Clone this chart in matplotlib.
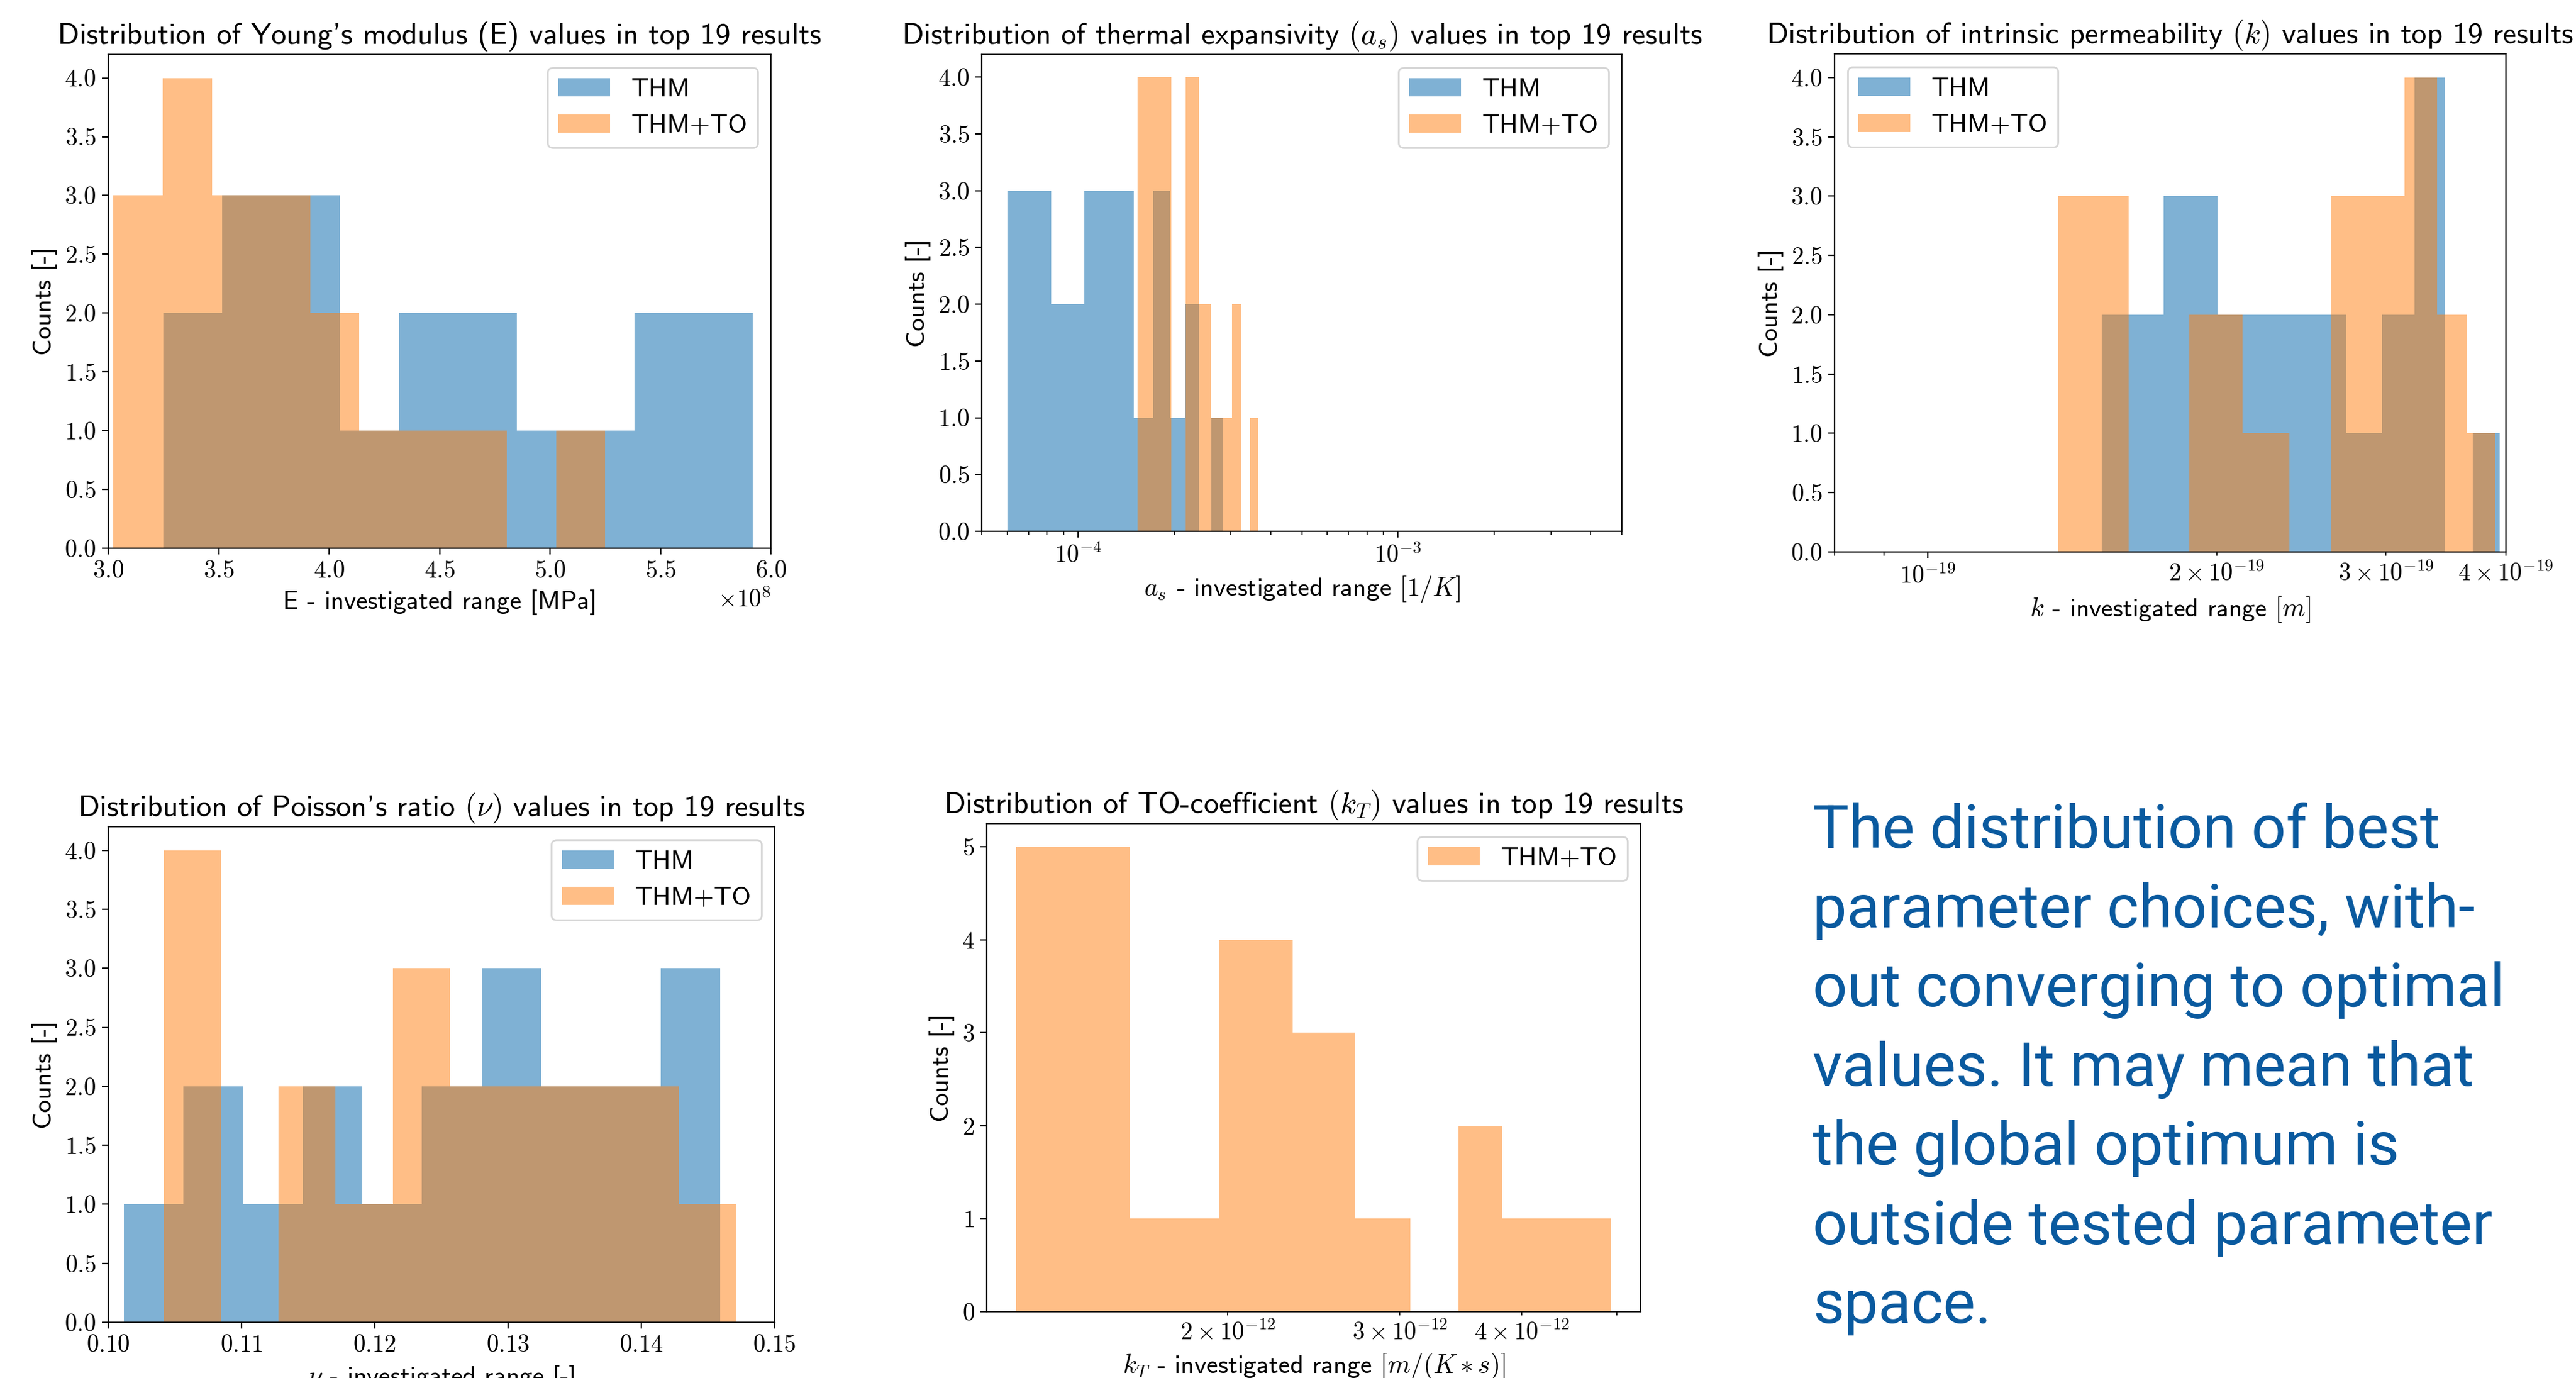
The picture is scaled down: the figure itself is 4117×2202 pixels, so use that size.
import matplotlib
matplotlib.use('Agg')
import matplotlib.pyplot as plt

# Fonts: serif CM for ticks/math, CM sans for text
plt.rcParams['font.family'] = 'cmr10'
plt.rcParams['mathtext.fontset'] = 'cm'
plt.rcParams['axes.formatter.use_mathtext'] = True
plt.rcParams['axes.unicode_minus'] = False

SANS = ['cmss10', 'DejaVu Sans']
TITLE_SIZE = 17.4
LABEL_SIZE = 15
TICK_SIZE = 14
LEGEND_SIZE = 15

# ---------------------------------------------------------------------------
# Data (bin edges + counts)
# ---------------------------------------------------------------------------
E_edges_thm = [3.249e8, 3.516e8, 3.783e8, 4.049e8, 4.316e8, 4.583e8,
               4.850e8, 5.117e8, 5.383e8, 5.650e8, 5.917e8]
E_counts_thm = [2, 3, 3, 1, 2, 2, 1, 1, 2, 2]
E_edges_to = [3.024e8, 3.247e8, 3.469e8, 3.692e8, 3.914e8, 4.137e8,
              4.359e8, 4.582e8, 4.804e8, 5.027e8, 5.249e8]
E_counts_to = [3, 4, 3, 3, 2, 1, 1, 1, 0, 1]

as_edges_thm = [6.00e-5, 8.23e-5, 10.46e-5, 12.69e-5, 14.92e-5, 17.15e-5,
                19.38e-5, 21.61e-5, 23.84e-5, 26.07e-5, 28.30e-5]
as_counts_thm = [3, 2, 3, 3, 1, 3, 1, 2, 0, 1]
as_edges_to = [1.535e-4, 1.748e-4, 1.960e-4, 2.173e-4, 2.385e-4, 2.598e-4,
               2.810e-4, 3.023e-4, 3.235e-4, 3.448e-4, 3.660e-4]
as_counts_to = [4, 4, 0, 4, 2, 1, 1, 2, 0, 1]

k_edges_thm = [1.519e-19, 1.761e-19, 2.003e-19, 2.245e-19, 2.487e-19, 2.729e-19,
               2.971e-19, 3.213e-19, 3.454e-19, 3.696e-19, 3.938e-19]
k_counts_thm = [2, 3, 2, 2, 2, 1, 2, 4, 0, 1]
k_edges_to = [1.367e-19, 1.620e-19, 1.873e-19, 2.126e-19, 2.379e-19, 2.632e-19,
              2.885e-19, 3.138e-19, 3.391e-19, 3.644e-19, 3.897e-19]
k_counts_to = [3, 0, 2, 1, 0, 3, 3, 4, 2, 1]

nu_edges_thm = [0.10117, 0.10564, 0.11012, 0.11459, 0.11907, 0.12354,
                0.12801, 0.13249, 0.13696, 0.14144, 0.14591]
nu_counts_thm = [1, 2, 1, 2, 1, 2, 3, 2, 2, 3]
nu_edges_to = [0.10417, 0.10846, 0.11275, 0.11705, 0.12134, 0.12563,
               0.12992, 0.13421, 0.13851, 0.14280, 0.14709]
nu_counts_to = [4, 0, 2, 1, 3, 2, 2, 2, 2, 1]

kT_edges_to = [1.216e-12, 1.588e-12, 1.960e-12, 2.331e-12, 2.703e-12, 3.075e-12,
               3.447e-12, 3.819e-12, 4.190e-12, 4.562e-12, 4.934e-12]
kT_counts_to = [5, 1, 4, 3, 1, 0, 2, 1, 1, 1]

note_lines = [
    'The distribution of best',
    'parameter choices, with-',
    'out converging to optimal',
    'values. It may mean that',
    'the global optimum is',
    'outside tested parameter',
    'space.',
]

# ---------------------------------------------------------------------------
W, H = 4117, 2202
DPI = 200
fig = plt.figure(figsize=(W / DPI, H / DPI), dpi=DPI)

ALPHA = {'C0': 0.57, 'C1': 0.5}


def px_axes(left, top, right, bottom):
    """Axes from pixel box of the reference image"""
    return fig.add_axes([left / W, 1 - bottom / H, (right - left) / W, (bottom - top) / H])


def hist_pair(ax, series, title, xlabel, legend_loc='upper right'):
    for edges, counts, color, label in series:
        ax.hist(edges[:-1], bins=edges, weights=counts, color=color,
                alpha=ALPHA[color], label=label)
    ax.set_title(title, fontsize=TITLE_SIZE, family=SANS)
    ax.set_xlabel(xlabel, fontsize=LABEL_SIZE, family=SANS)
    ax.set_ylabel('Counts [-]', fontsize=LABEL_SIZE, family=SANS)
    ax.tick_params(which='both', labelsize=TICK_SIZE)
    ax.xaxis.get_offset_text().set_fontsize(TICK_SIZE)
    ax.legend(loc=legend_loc, prop={'family': SANS, 'size': LEGEND_SIZE})


# Young's modulus
ax1 = px_axes(173, 87, 1232, 876)
hist_pair(ax1, [(E_edges_thm, E_counts_thm, 'C0', 'THM'),
                (E_edges_to, E_counts_to, 'C1', 'THM+TO')],
          "Distribution of Young's modulus (E) values in top 19 results",
          'E - investigated range [MPa]')
ax1.set_xlim(3.0e8, 6.0e8)

# thermal expansivity
ax2 = px_axes(1569, 87, 2592, 849)
ax2.set_xscale('log')
hist_pair(ax2, [(as_edges_thm, as_counts_thm, 'C0', 'THM'),
                (as_edges_to, as_counts_to, 'C1', 'THM+TO')],
          r'Distribution of thermal expansivity $(a_s)$ values in top 19 results',
          r'$a_s$ - investigated range $[1/K]$')
ax2.set_xlim(5e-5, 5e-3)

# intrinsic permeability
ax3 = px_axes(2932, 86, 4005, 882)
ax3.set_xscale('log')
hist_pair(ax3, [(k_edges_thm, k_counts_thm, 'C0', 'THM'),
                (k_edges_to, k_counts_to, 'C1', 'THM+TO')],
          r'Distribution of intrinsic permeability $(k)$ values in top 19 results',
          r'$k$ - investigated range $[m]$', legend_loc='upper left')
ax3.set_xlim(8e-20, 4e-19)

# Poisson's ratio
ax4 = px_axes(173, 1321, 1238, 2113)
hist_pair(ax4, [(nu_edges_thm, nu_counts_thm, 'C0', 'THM'),
                (nu_edges_to, nu_counts_to, 'C1', 'THM+TO')],
          r"Distribution of Poisson's ratio $(\nu)$ values in top 19 results",
          r'$\nu$ - investigated range [-]')
ax4.set_xlim(0.10, 0.15)

# TO-coefficient
ax5 = px_axes(1577, 1316, 2622, 2096)
ax5.set_xscale('log')
hist_pair(ax5, [(kT_edges_to, kT_counts_to, 'C1', 'THM+TO')],
          r'Distribution of TO-coefficient $(k_T)$ values in top 19 results',
          r'$k_T$ - investigated range $[m/(K*s)]$')

# Note text on the right
for i, line in enumerate(note_lines):
    baseline = 1355 + i * 126.5
    fig.text(2897 / W, 1 - baseline / H, line, fontsize=35, family='Roboto',
             color='#0A5A9F', ha='left', va='baseline')

fig.savefig('out.png', dpi=DPI, facecolor='white')
